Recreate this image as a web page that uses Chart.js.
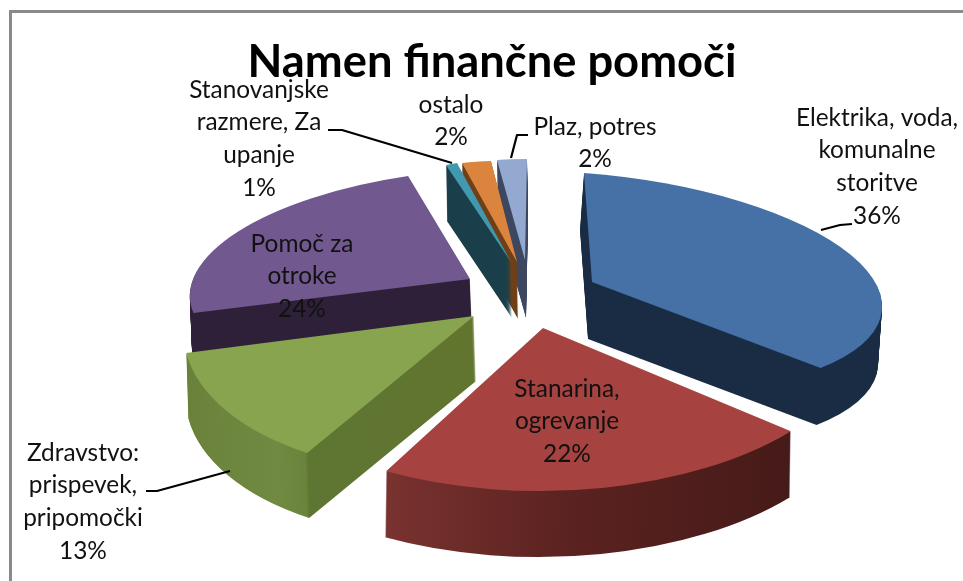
<!DOCTYPE html>
<html><head><meta charset="utf-8">
<style>html,body{margin:0;padding:0;background:#fff}canvas{display:block}</style>
<script src="https://cdn.jsdelivr.net/npm/chart.js@4"></script>
</head><body><canvas id="c" width="963" height="581"></canvas>
<script>
const categories = ['Elektrika, voda, komunalne storitve','Stanarina, ogrevanje','Zdravstvo: prispevek, pripomočki','Pomoč za otroke','Stanovanjske razmere, Za upanje','ostalo','Plaz, potres'];
const values = [36,22,13,24,1,2,2];
const faceColors = ['#4571A6','#A64340','#88A44E','#71588F','#4198AF','#DB843D','#93A9CF'];
const titleText = 'Namen finančne pomoči';
const labelLines = [['Elektrika, voda,','komunalne','storitve'],['Stanarina,','ogrevanje'],['Zdravstvo:','prispevek,','pripomočki'],['Pomoč za','otroke'],['Stanovanjske','razmere, Za','upanje'],['ostalo'],['Plaz, potres']];

// 3D view of each slice: linear map, apex, wall depth, wall shear, wall colours (local x from -1 to 1)
const sliceViews = [
 {m:[290,21.4,8,109], o:[592,282], depth:57, shift:-4, wall:[[0,'#1A2C44'],[1,'#1A2C44']]},
 {m:[323,-1,-1.5,163], o:[543,328], depth:66, shift:-1, wall:[[0,'#8A3A37'],[0.25,'#7A3330'],[0.55,'#5A2220'],[0.9,'#451A18'],[1,'#451A18']]},
 {m:[289,2.3,-31.5,157.6], o:[474,316], depth:65, shift:2, wall:[[0,'#6A8039'],[0.2,'#708A42'],[0.255,'#6B843B'],[0.26,'#5F7533'],[0.5,'#62752F'],[1,'#62752F']]},
 {m:[279,-6.7,-25.5,110.5], o:[470,279], depth:50, shift:2, wall:[[0,'#2E2038'],[1,'#2E2038']]},
 {m:[185,-3.2,8.3,103], o:[511,262], depth:56, shift:1, wall:[[0,'#1A3F4A'],[1,'#1A3F4A']]},
 {m:[234.5,3,-3.4,101.4], o:[517,262], depth:57, shift:1, wall:[[0,'#6F3F18'],[1,'#6F3F18']]},
 {m:[239,-1.6,-2,101], o:[525,260], depth:58, shift:1, wall:[[0,'#3D4760'],[1,'#3D4760']]}
];
const paintOrder = [3,6,5,4,0,2,1];
const labelPlaces = [
 {x:877,y:118},{x:567,y:389},{x:83,y:453},{x:302,y:244},{x:259,y:90},{x:451,y:105},{x:595,y:127}
];
const leaderPaths = [
 [[852,224],[840,225],[821,230]],
 [],
 [[146,491],[157,491],[230,471]],
 [],
 [[328,130],[342,130],[452,163]],
 [],
 [[528,135],[517,135],[511,158]]
];

function drawSlice(ctx, arc, view, fill, dx, dy){
  const r = arc.outerRadius;
  const [a,b,c,d] = view.m;
  const ghost = Object.create(arc);
  const o = Object.create(arc.options);
  o.backgroundColor = fill; o.borderWidth = 0;
  ghost.options = o;
  ctx.save();
  ctx.translate(dx, dy);
  ctx.transform(a/r, b/r, c/r, d/r, view.o[0], view.o[1]);
  ctx.translate(-arc.x, -arc.y);
  ghost.draw(ctx);
  ctx.restore();
}
const pie3d = {
  id:'pie3d',
  beforeDraw(chart){
    const ctx = chart.ctx;
    ctx.save();
    ctx.strokeStyle='#8A8A8A'; ctx.lineWidth=3;
    ctx.beginPath(); ctx.moveTo(10.5,581); ctx.lineTo(10.5,11.5); ctx.lineTo(963,11.5); ctx.stroke();
    ctx.restore();
  },
  beforeDatasetsDraw(chart){
    const ctx = chart.ctx;
    const arcs = chart.getDatasetMeta(0).data;
    paintOrder.forEach(i=>{
      const arc = arcs[i], view = sliceViews[i], r = arc.outerRadius;
      const g = ctx.createLinearGradient(arc.x-r,0,arc.x+r,0);
      view.wall.forEach(s=>g.addColorStop(s[0],s[1]));
      for(let k=view.depth;k>=1;k--){
        drawSlice(ctx, arc, view, g, view.shift*k/view.depth, k);
      }
      drawSlice(ctx, arc, view, faceColors[i], 0, 0);
    });
    return false;
  },
  afterDraw(chart){
    const ctx = chart.ctx;
    ctx.save();
    ctx.strokeStyle='#000'; ctx.lineWidth=2.2; ctx.lineJoin='round';
    leaderPaths.forEach(p=>{
      if(!p.length) return;
      ctx.beginPath(); p.forEach((q,j)=> j?ctx.lineTo(q[0],q[1]):ctx.moveTo(q[0],q[1])); ctx.stroke();
    });
    ctx.fillStyle='#111';
    ctx.font='24.4px Lato';
    ctx.textAlign='center'; ctx.textBaseline='middle';
    labelLines.forEach((lines,i)=>{
      const all = lines.concat(values[i]+'%');
      all.forEach((t,j)=>ctx.fillText(t,labelPlaces[i].x,labelPlaces[i].y+j*32.6));
    });
    ctx.restore();
  }
};
new Chart(document.getElementById('c'),{
  type:'pie',
  data:{labels:categories,datasets:[{data:values,backgroundColor:faceColors,borderWidth:0}]},
  plugins:[pie3d],
  options:{
    responsive:false,animation:false,
    layout:{padding:{left:21}},
    plugins:{
      legend:{display:false},tooltip:{enabled:false},
      title:{display:true,text:titleText,fullSize:false,color:'#000',font:{family:'Lato',weight:'bold',size:45.3},padding:{top:35,bottom:0}}
    }
  }
});
</script></body></html>
